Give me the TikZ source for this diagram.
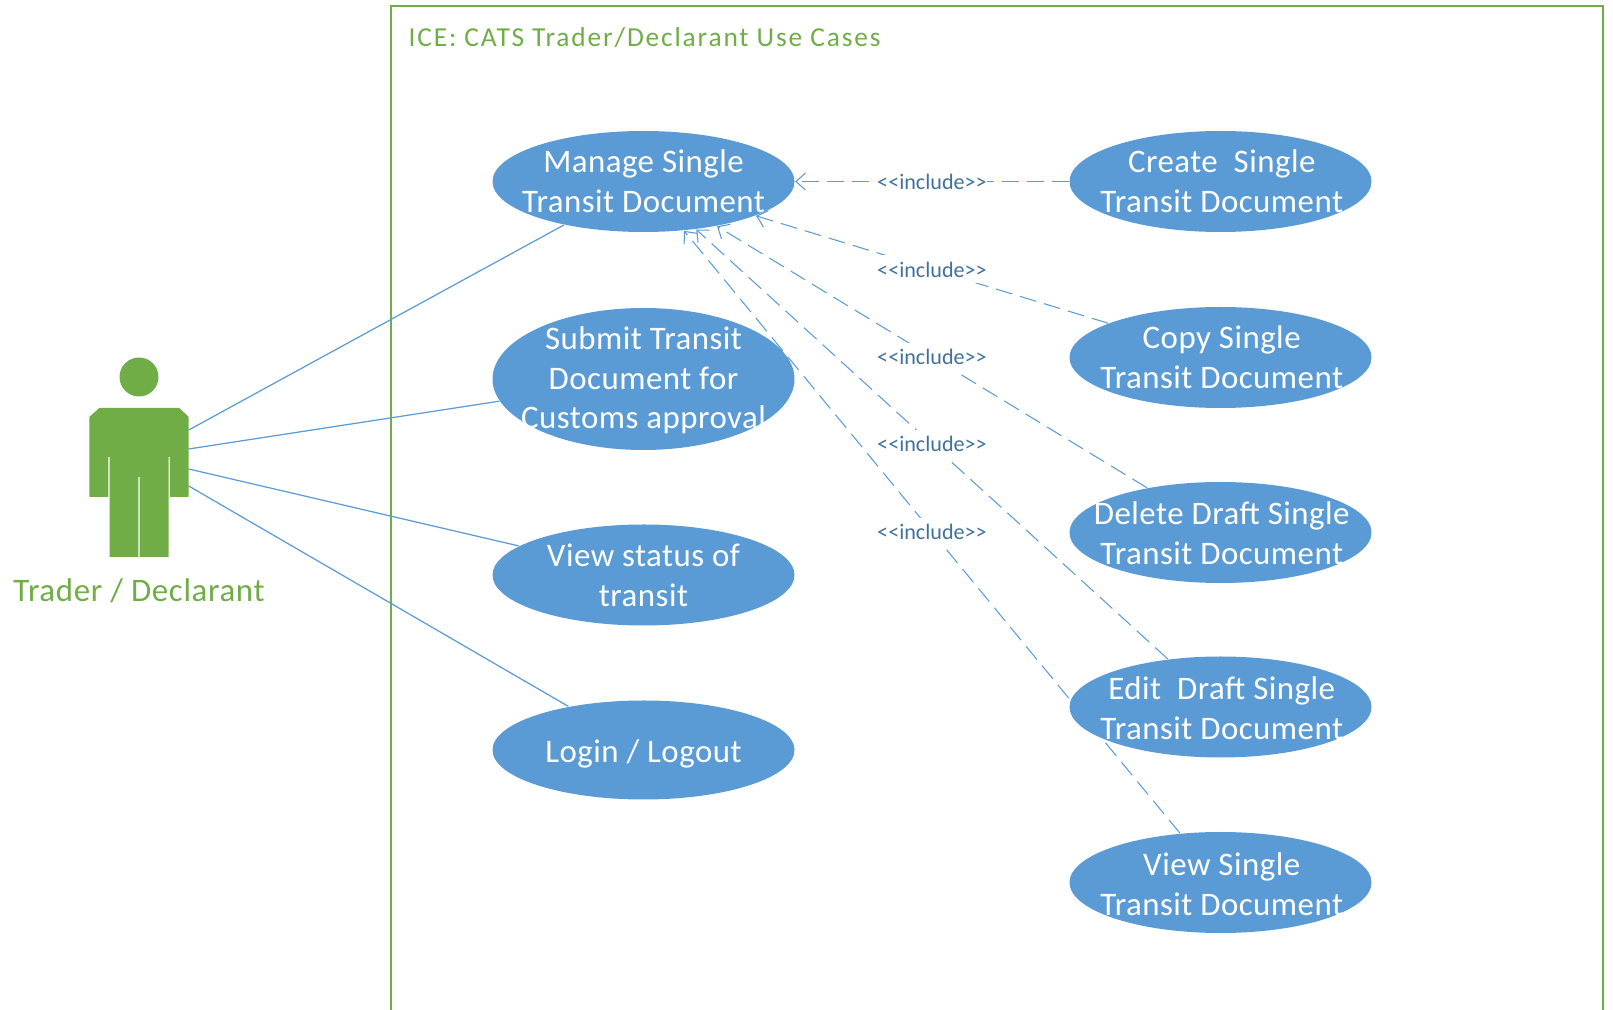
\documentclass[tikz,border=0pt]{standalone}
\usepackage{fontspec}
\setmainfont{Carlito}
\usepackage{tikz}
\usetikzlibrary{arrows.meta,shapes.geometric}

\definecolor{usecaseblue}{HTML}{5B9BD5}
\definecolor{labelblue}{HTML}{41719C}
\definecolor{actorgreen}{HTML}{70AD47}

\begin{document}
\begin{tikzpicture}[
        usecase/.style={ellipse,fill=usecaseblue,minimum width=3.02cm,minimum height=1.01cm,inner sep=0},
        casetext/.style={align=center,text=white,font=\fontsize{9.35pt}{11.3pt}\selectfont\addfontfeature{LetterSpace=1.5},inner sep=0},
        righttext/.style={casetext,xshift=0.012cm},
        assoc/.style={draw=usecaseblue,line width=0.35pt},
        incl/.style={draw=usecaseblue,line width=0.3pt,dash pattern=on 0.17cm off 0.08cm,-{Straight Barb[length=0.095cm,width=0.17cm]}},
        incltext/.style={fill=white,text=labelblue,font=\fontsize{6.3pt}{7pt}\selectfont,inner sep=0,minimum width=1.1cm,minimum height=0.28cm},
        greentext/.style={text=actorgreen,inner sep=0}]
        \useasboundingbox (0,0) rectangle (16.13,10.10);
        \draw[actorgreen,line width=0.3pt] (3.91,0) -- (3.91,10.04) -- (16.03,10.04) -- (16.03,0);
        \node[greentext,anchor=west,font=\fontsize{7.8pt}{9pt}\selectfont\addfontfeature{LetterSpace=6.7}] (title) at (4.08,9.725) {ICE: CATS Trader/Declarant Use Cases};
        \fill[actorgreen] (1.39,6.33) circle (0.195);
        \fill[actorgreen] (0.993,6.02) -- (1.793,6.02) -- (1.887,5.93) -- (1.887,5.13) -- (1.70,5.13) -- (1.70,5.53) -- (1.687,5.53) -- (1.687,4.53) -- (1.397,4.53) -- (1.397,5.33) -- (1.383,5.33) -- (1.383,4.53) -- (1.097,4.53) -- (1.097,5.53) -- (1.083,5.53) -- (1.083,5.13) -- (0.893,5.13) -- (0.893,5.93) -- cycle;
        \node[greentext,font=\fontsize{9.35pt}{11pt}\selectfont\addfontfeature{LetterSpace=2}] (actor) at (1.39,4.19) {Trader / Declarant};
        \coordinate (arm1) at (1.887,5.80);
        \coordinate (arm2) at (1.887,5.61);
        \coordinate (arm3) at (1.887,5.41);
        \coordinate (arm4) at (1.887,5.24);
        \node[usecase,label={[casetext,yshift=0.005cm]center:Manage Single\\Transit Document}] (manage) at (6.435,8.285) {};
        \node[usecase,minimum height=1.42cm,label={[casetext,yshift=-0.015cm]center:Submit Transit\\Document for\\Customs approval}] (submit) at (6.435,6.31) {};
        \node[usecase,label={[casetext]center:View status of\\transit}] (status) at (6.435,4.35) {};
        \node[usecase,minimum height=0.99cm,label={[casetext,yshift=-0.04cm]center:Login / Logout}] (login) at (6.435,2.60) {};
        \node[usecase,label={[righttext,yshift=0.005cm]center:Create~ Single\\Transit Document}] (create) at (12.205,8.285) {};
        \node[usecase,label={[righttext]center:Copy Single\\Transit Document}] (copy) at (12.205,6.525) {};
        \node[usecase,label={[righttext,yshift=-0.005cm]center:Delete Draft Single\\Transit Document}] (delete) at (12.205,4.775) {};
        \node[usecase,label={[righttext,yshift=-0.01cm]center:Edit~ Draft Single\\Transit Document}] (edit) at (12.205,3.03) {};
        \node[usecase,label={[righttext,yshift=-0.02cm]center:View Single\\Transit Document}] (view) at (12.205,1.275) {};
        \draw[assoc] (arm1) -- (manage) (arm2) -- (submit) (arm3) -- (status) (arm4) -- (login);
        \foreach \from in {create,copy,delete,edit,view}
          \draw[incl] (\from) -- node[incltext,solid] {<{}<include>{}>} (manage);
      \end{tikzpicture}
\end{document}
